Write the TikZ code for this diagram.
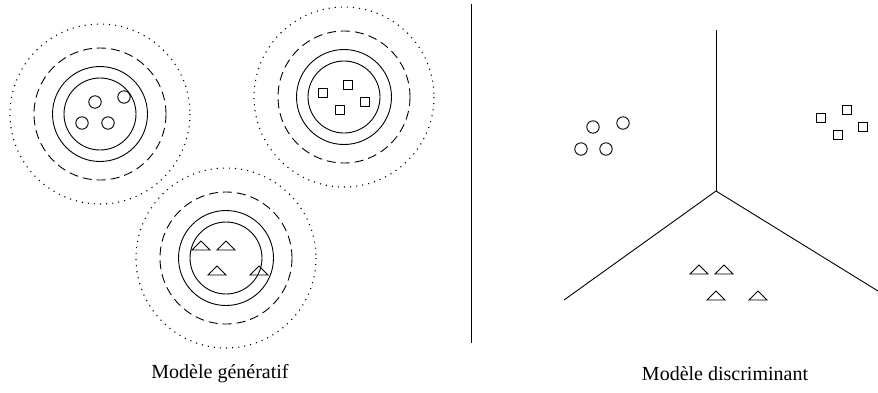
\documentclass[tikz,border=0pt]{standalone}
\usepackage{fontspec}
\setmainfont{Liberation Serif}
\begin{document}
\begin{tikzpicture}[x=1pt,y=-1pt,
  solid line/.style={line width=0.9pt},
  dashline/.style={line width=0.9pt,dash pattern=on 9pt off 5pt},
  dotline/.style={line width=1.1pt,dash pattern=on 1.1pt off 5pt},
  pt/.style={line width=0.9pt},
  lbl/.style={font=\fontsize{20}{23}\selectfont, inner sep=0pt}]
\useasboundingbox (0,0) rectangle (878,392);
% cluster rings
\foreach \cx/\cy in {100/114, 344/97, 226/258}{
  \draw[solid line] (\cx,\cy) circle (36);
  \draw[solid line] (\cx,\cy) circle (47.5);
  \draw[dashline] (\cx,\cy) circle (66);
  \draw[dotline] (\cx,\cy) circle (90);
}
% circles
\foreach \x/\y in {95/102, 124/97, 82/123, 108/123, 593/127, 623/123, 581/149, 606/149}{
  \draw[pt] (\x,\y) circle (6.2);
}
% squares
\foreach \x/\y in {323/93, 348/85, 365/102, 340/110, 821/118, 847/110, 863/127, 838/135}{
  \draw[pt] (\x-4.3,\y-4.3) rectangle (\x+4.3,\y+4.3);
}
% triangles (base centre)
\foreach \x/\y in {201/250, 226/250, 217/275, 259/275, 699/274, 724/274, 716/300, 758/300}{
  \draw[pt,line join=miter] (\x-9,\y) -- (\x,\y-9) -- (\x+9,\y) -- cycle;
}
% divider
\coordinate (dtop) at (471,4);
\coordinate (dbot) at (471,343);
\draw[line width=1pt] (dtop) -- (dbot);
% discriminant boundaries
\coordinate (c) at (716,191);
\coordinate (up) at (716,30);
\coordinate (ld) at (564,300);
\coordinate (rd) at (878,291);
\draw[solid line] (c) -- (up);
\draw[solid line] (c) -- (ld);
\draw[solid line] (c) -- (rd);
% labels
\node[lbl] (gen) at (220,374) {Modèle génératif};
\node[lbl] (dis) at (725,374) {Modèle discriminant};
\end{tikzpicture}
\end{document}
